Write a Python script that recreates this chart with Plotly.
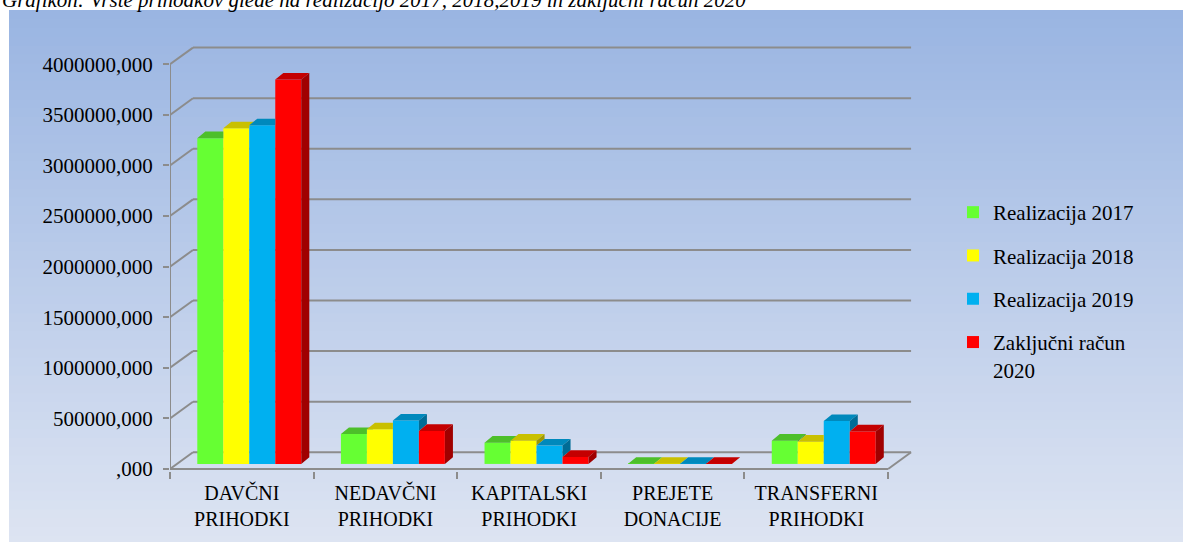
import plotly.graph_objects as go

# --- data ---------------------------------------------------------------
CATEGORIES = ["DAVČNI<br>PRIHODKI", "NEDAVČNI<br>PRIHODKI", "KAPITALSKI<br>PRIHODKI",
              "PREJETE<br>DONACIJE", "TRANSFERNI<br>PRIHODKI"]
SERIES = ["Realizacija 2017", "Realizacija 2018", "Realizacija 2019", "Zaključni račun<br>2020"]
REAL_2017 = [3220000, 296000, 210000, 1500, 230000]
REAL_2018 = [3318000, 343000, 230000, 1500, 220000]
REAL_2019 = [3348000, 428000, 181000, 1500, 424000]
ZR_2020 = [3800000, 326000, 69000, 1500, 321000]
Y_TICKS = [0, 500000, 1000000, 1500000, 2000000, 2500000, 3000000, 3500000, 4000000]
Y_TICK_LABELS = [",000", "500000,000", "1000000,000", "1500000,000", "2000000,000",
                 "2500000,000", "3000000,000", "3500000,000", "4000000,000"]
TITLE = "Grafikon: Vrste prihodkov glede na realizacijo 2017, 2018,2019 in zaključni račun 2020"

# --- style --------------------------------------------------------------
FRONT = ["#66FF33", "#FFFF00", "#00B0F0", "#FF0000"]
TOP = ["#4DBF2A", "#C9C000", "#0089BC", "#C40000"]
SIDE = ["#3C9620", "#9E9800", "#006C96", "#A00000"]
GRID = "#8C8C8C"
FONT = "Liberation Serif, Times New Roman, serif"

W, H = 1183, 542
M_L, M_R, M_T, M_B = 170, 259, 37, 71
X_RANGE = [-0.5, 4.75]
Y_RANGE = [-20000, 4270000]

BAR_W = 0.181
OFFSETS = [-0.31, -0.129, 0.052, 0.233]
BAR_BASE = 50000
DX, DY = 0.056, 65000          # depth of a bar (top / side faces)
DEPTH_X, DEPTH_Y = 0.16, 165000  # depth of the floor / back wall

series_vals = [REAL_2017, REAL_2018, REAL_2019, ZR_2020]
x_pos = list(range(len(CATEGORIES)))

plot_w = W - M_L - M_R
plot_h = H - M_T - M_B


def px_x(p):
    return (p - M_L) / plot_w


def px_y(p):
    return (H - M_B - p) / plot_h


fig = go.Figure()

# front faces
for k, name in enumerate(SERIES):
    fig.add_trace(go.Bar(
        x=x_pos, y=series_vals[k], base=BAR_BASE, offset=OFFSETS[k], width=BAR_W,
        name=name, marker=dict(color=FRONT[k], line=dict(width=0)),
        legendgroup=str(k), hoverinfo="skip",
    ))

# top and side faces
n = len(SERIES)
for k in range(n):
    tx, ty, sx, sy = [], [], [], []
    for i in x_pos:
        xl = i + OFFSETS[k]
        xr = xl + BAR_W
        h = BAR_BASE + series_vals[k][i]
        hn = BAR_BASE + series_vals[k + 1][i] if k < n - 1 else BAR_BASE
        hc = min(max(hn, h), h + DY)
        xs = xr + (hc - h) * DX / DY
        tx += [xl, xr, xr, xs, xr + DX, xl + DX, xl, None]
        ty += [h, h, hc, hc, h + DY, h + DY, h, None]
        if h > hn:
            sx += [xr, xr + DX, xr + DX, xr, xr, None]
            sy += [hn, hn + DY, h + DY, h, hn, None]
    fig.add_trace(go.Scatter(x=tx, y=ty, mode="lines", fill="toself", fillcolor=TOP[k],
                             line=dict(width=0), showlegend=False, hoverinfo="skip"))
    if sx:
        fig.add_trace(go.Scatter(x=sx, y=sy, mode="lines", fill="toself", fillcolor=SIDE[k],
                                 line=dict(width=0), showlegend=False, hoverinfo="skip"))

# background gradient
c0, c1 = (154, 181, 226), (221, 228, 242)
top_px, bot_px = 10, 545
steps = 60
for s in range(steps):
    t = s / (steps - 1)
    col = "rgb(%d,%d,%d)" % tuple(round(a + (b - a) * t) for a, b in zip(c0, c1))
    y0 = top_px + (bot_px - top_px) * s / steps
    y1 = top_px + (bot_px - top_px) * (s + 1) / steps + 1
    fig.add_shape(type="rect", xref="paper", yref="paper", layer="below",
                  x0=px_x(9), x1=px_x(W + 2), y0=px_y(y1), y1=px_y(y0),
                  fillcolor=col, line=dict(width=0))

# back wall gridlines, floor and front axis
line = dict(color=GRID, width=2)
for v in Y_TICKS:
    fig.add_shape(type="line", layer="below", x0=-0.5 + DEPTH_X, x1=4.5 + DEPTH_X,
                  y0=v + DEPTH_Y, y1=v + DEPTH_Y, line=line)
    fig.add_shape(type="line", layer="below", x0=-0.5, x1=-0.5 + DEPTH_X,
                  y0=v, y1=v + DEPTH_Y, line=line)
fig.add_shape(type="line", layer="below", x0=-0.5, x1=4.5, y0=0, y1=0, line=line)
fig.add_shape(type="line", layer="below", x0=4.5, x1=4.5 + DEPTH_X, y0=0, y1=DEPTH_Y, line=line)
fig.add_shape(type="line", layer="below", x0=-0.5, x1=-0.5, y0=0, y1=Y_TICKS[-1], line=line)

fig.add_annotation(text="<i>" + TITLE + "</i>", xref="paper", yref="paper", x=0, y=1,
                   xanchor="left", yanchor="middle", xshift=-M_L, yshift=M_T,
                   showarrow=False, font=dict(family=FONT, size=21, color="black"))

fig.update_layout(
    width=W, height=H,
    margin=dict(l=M_L, r=M_R, t=M_T, b=M_B, pad=0),
    paper_bgcolor="white", plot_bgcolor="rgba(0,0,0,0)",
    barmode="overlay",
    font=dict(family=FONT, size=20, color="black"),
    legend=dict(x=px_x(953), y=px_y(192), xanchor="left", yanchor="top",
                bgcolor="rgba(0,0,0,0)", traceorder="grouped", tracegroupgap=13,
                valign="top", font=dict(family=FONT, size=21, color="black")),
    showlegend=True,
)
fig.update_xaxes(range=X_RANGE, tickvals=x_pos, ticktext=CATEGORIES, ticks="",
                 showgrid=False, zeroline=False, showline=False, ticklabelstandoff=8,
                 minor=dict(tickvals=[i - 0.5 for i in range(len(CATEGORIES) + 1)],
                            ticks="outside", ticklen=7, tickcolor=GRID, tickwidth=2,
                            showgrid=False))
fig.update_yaxes(range=Y_RANGE, tickvals=Y_TICKS, ticktext=Y_TICK_LABELS, ticks="outside",
                 ticklen=6, tickcolor=GRID, tickwidth=2, showgrid=False, zeroline=False,
                 showline=False, ticklabelstandoff=6, tickfont=dict(size=21))

# page body margin would shift the figure by 8px
fig.write_html("out.html", config={"displayModeBar": False},
               post_script="document.body.style.margin='0';")
